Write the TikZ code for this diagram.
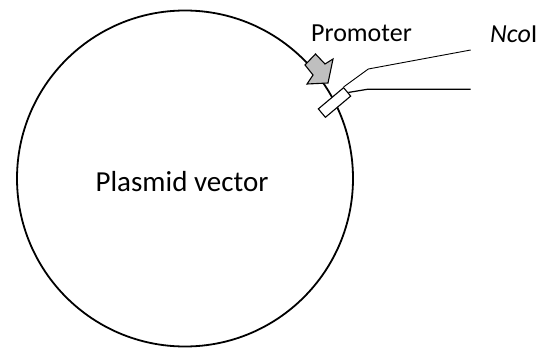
\documentclass[tikz,border=0pt]{standalone}
\usepackage{fontspec}
\setmainfont{Carlito}
\usetikzlibrary{calc}
\definecolor{promgray}{RGB}{191,191,191}

\begin{document}
\begin{tikzpicture}[x=1pt, y=-1pt]
	\useasboundingbox (0,0) rectangle (553,350);
	\node[circle, draw, line width=1.8pt, inner sep=0pt, minimum size=336pt] (plasmid) at (185,178.5) {};
	\node[anchor=base, inner sep=0pt, font=\fontsize{29}{34}\selectfont] (vec) at (182,191.7) {Plasmid vector};

	\draw[fill=promgray, line width=1.1pt, line join=miter] (315.5,54) -- (325,64) -- (333,59) -- (328,83) -- (307,84) -- (313,75) -- (305,65) -- cycle;

	\node[draw, fill=white, rotate=40, minimum width=33pt, minimum height=11pt, inner sep=0pt, line width=1.1pt] (site) at (334.5,102.5) {};

	\node[anchor=base, inner sep=0pt, font=\fontsize{26}{30}\selectfont] (prom) at (361.5,42) {Promoter};
	\node[anchor=base west, inner sep=0pt, font=\fontsize{26}{30}\selectfont] (nco) at (490,42.3) {\textit{Nco}I};

	\coordinate (k1) at (368.3,69);
	\coordinate (e1) at (470.7,50);
	\coordinate (k2) at (367.3,89.3);
	\coordinate (e2) at (470.7,89.3);

	\draw[line width=0.9pt] (site.north east) -- (k1) -- (e1);
	\draw[line width=1.2pt] ($(site.north east)!0.6!(site.south east)$) -- (k2) -- (e2);
\end{tikzpicture}
\end{document}
